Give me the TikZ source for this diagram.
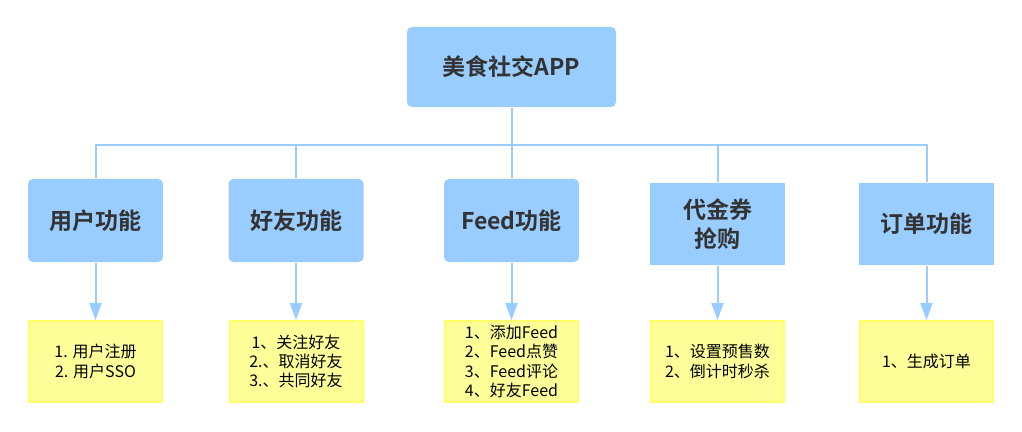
\documentclass[tikz,border=0pt]{standalone}
\usepackage{fontspec}
\setmainfont{Noto Sans CJK SC}[BoldFont={Noto Sans CJK SC Bold}]
\usetikzlibrary{%
  arrows.meta,%
  positioning,%
  calc%
}
\definecolor{boxblue}{HTML}{99CCFF}
\definecolor{boxyellow}{HTML}{FFFF99}
\definecolor{lineyellow}{HTML}{FFFF66}
\definecolor{txtgray}{HTML}{333333}

\begin{document}
\begin{tikzpicture}
  [
  x=1pt, y=-1pt, line width=2pt, draw=boxblue,
  >={Triangle[width=12pt,length=17pt]},
  root/.style={rectangle, minimum height=80pt, minimum width=209pt, fill=boxblue, rounded corners=5pt, text=txtgray, font=\fontsize{23}{27}\selectfont\bfseries},
  module/.style={rectangle, minimum height=83pt, minimum width=135pt, fill=boxblue, rounded corners=5pt, text=txtgray, align=center, font=\fontsize{23}{29}\selectfont\bfseries},
  squaremodule/.style={module, rounded corners=0pt, minimum height=82pt},
  detail/.style={rectangle, minimum height=81pt, minimum width=133pt, draw=lineyellow, fill=boxyellow, align=center, font=\fontsize{16}{19.3}\selectfont}
  ]
\useasboundingbox (0,0) rectangle (1022,431);

\node[root] (app) at (511.5,67) {美食社交APP};
\coordinate (bus) at (511.5,145);

\node[module] (m1) at (95.5,220.5) {用户功能};
\node[module] (m2) at (296,220.5) {好友功能};
\node[module] (m3) at (511.5,220.5) {Feed功能};
\node[squaremodule] (m4) at (717.5,224) {代金券\\抢购};
\node[squaremodule] (m5) at (926.5,224) {订单功能};

\node[detail] (d1) at (95.5,361.5) {1. 用户注册\\2. 用户SSO};
\node[detail] (d2) at (296,361.5) {1、关注好友\\2.、取消好友\\3.、共同好友};
\node[detail] (d3) at (511.5,361.5) {1、添加Feed\\2、Feed点赞\\3、Feed评论\\4、好友Feed};
\node[detail] (d4) at (717.5,361.5) {1、设置预售数\\2、倒计时秒杀};
\node[detail] (d5) at (926.5,361.5) {1、生成订单};

\draw[boxblue] (app.south) -- (bus);
\foreach \m in {1,2,3,4,5} {
  \draw[boxblue] (bus) -| (m\m.north);
  \draw[boxblue,->] (m\m.south) -- (d\m.north);
}

\end{tikzpicture}
\end{document}
